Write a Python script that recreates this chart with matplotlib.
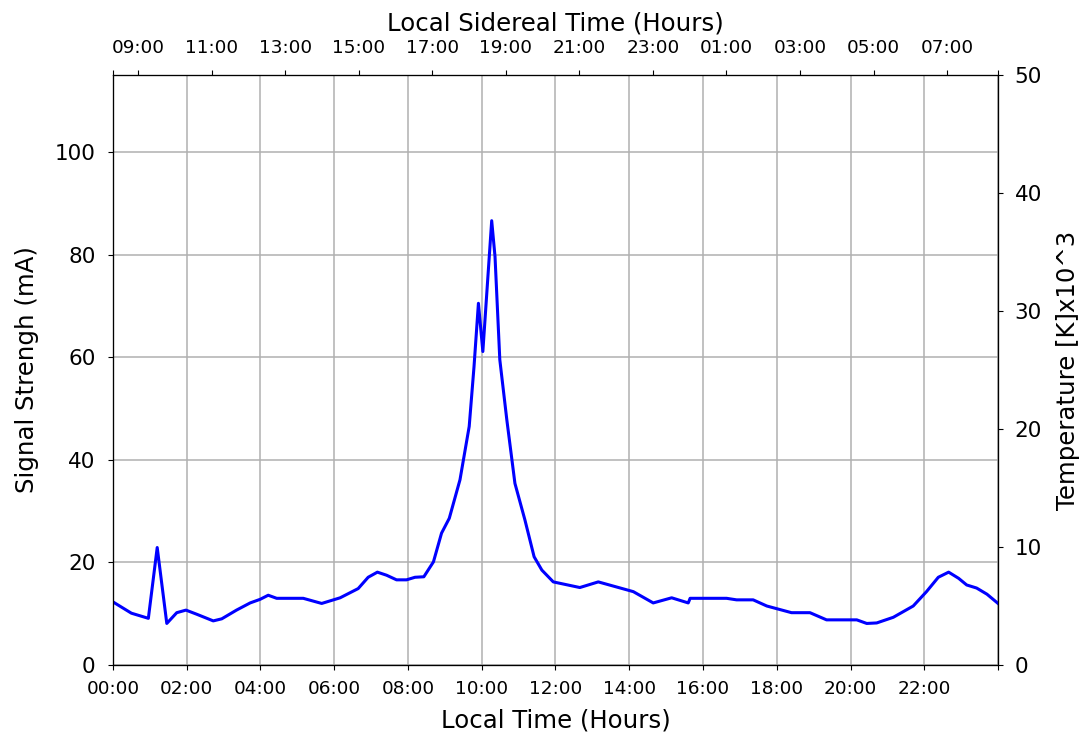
import matplotlib
matplotlib.use( 'Agg' )
import matplotlib.pyplot as plt
import numpy as np

# local time (hours) and signal strength (mA)
hours = [ 0.0, 0.5, 0.96, 1.2, 1.46, 1.73, 1.98, 2.27, 2.72, 2.95, 3.35, 3.72, 3.99, 4.21,
          4.44, 5.16, 5.66, 6.16, 6.65, 6.92, 7.17, 7.42, 7.69, 7.96, 8.19, 8.43, 8.69,
          8.91, 9.12, 9.41, 9.66, 9.79, 9.91, 10.03, 10.27, 10.36, 10.49, 10.68, 10.9,
          11.17, 11.42, 11.63, 11.94, 12.66, 13.16, 14.11, 14.65, 15.15, 15.60, 15.65,
          16.64, 16.91, 17.36, 17.73, 18.40, 18.90, 19.35, 20.17, 20.44, 20.71, 21.16,
          21.70, 22.06, 22.38, 22.66, 22.93, 23.15, 23.42, 23.70, 24.0 ]
signal = [ 12.3, 10.1, 9.1, 22.9, 8.1, 10.2, 10.7, 9.9, 8.6, 9.0, 10.7, 12.1, 12.8, 13.6,
           13.0, 13.0, 12.0, 13.1, 14.9, 17.1, 18.1, 17.5, 16.6, 16.6, 17.1, 17.2, 20.1,
           25.7, 28.6, 36.1, 46.5, 58.1, 70.5, 61.1, 86.6, 79.6, 59.5, 47.8, 35.4,
           28.3, 21.1, 18.5, 16.2, 15.1, 16.2, 14.3, 12.1, 13.1, 12.1, 13.0,
           13.0, 12.7, 12.7, 11.5, 10.2, 10.2, 8.8, 8.8, 8.1, 8.2, 9.3,
           11.5, 14.3, 17.1, 18.1, 16.9, 15.6, 15.0, 13.8, 12.0 ]

lst0 = 8.32          # sidereal time at local 00:00
sid_rate = 1.00274
sid_hours = [ 9, 11, 13, 15, 17, 19, 21, 23, 25, 27, 29, 31 ]

fig = plt.figure( figsize = ( 10.84, 7.38 ), dpi = 100 )
ax = fig.add_axes( [ 0.1042, 0.0989, 0.8165, 0.7995 ] )

ax.plot( hours, signal, color = 'b', linewidth = 2.2 )
ax.set_xlim( 0, 24 )
ax.set_ylim( 0, 115 )
ax.set_yticks( [ 0, 20, 40, 60, 80, 100 ] )
ax.set_xticks( np.arange( 0, 25, 2 ) )
ax.set_xticklabels( [ '%02d:00' % h for h in range( 0, 24, 2 ) ] + [ '' ] )
ax.tick_params( axis = 'x', labelsize = 13.3, pad = 7 )
ax.tick_params( axis = 'y', labelsize = 15.5, pad = 9 )
ax.set_xlabel( 'Local Time (Hours)', fontsize = 17.6, labelpad = 8 )
ax.set_ylabel( 'Signal Strengh (mA)', fontsize = 17.6, labelpad = 11 )
ax.grid( color = '#b0b0b0', linewidth = 1.1 )

# right axis: temperature
ax2 = ax.twinx()
ax2.set_ylim( 0, 50 )
ax2.set_yticks( [ 0, 10, 20, 30, 40, 50 ] )
ax2.tick_params( axis = 'y', labelsize = 15.5, pad = 8.5 )
ax2.set_ylabel( 'Temperature [K]x10^3', fontsize = 17.6, labelpad = 10 )

# top axis: sidereal time
ax3 = ax.twiny()
ax3.set_xlim( 0, 24 )
top_pos = [ 0 ] + [ ( s - lst0 ) / sid_rate for s in sid_hours ] + [ 24 ]
top_lab = [ '' ] + [ '%02d:00' % ( s % 24 ) for s in sid_hours ] + [ '' ]
ax3.set_xticks( top_pos )
ax3.set_xticklabels( top_lab )
ax3.tick_params( axis = 'x', labelsize = 13.3, pad = 9.5 )
ax3.set_xlabel( 'Local Sidereal Time (Hours)', fontsize = 17.6, labelpad = 6 )

fig.savefig( 'out.png', dpi = 100 )
